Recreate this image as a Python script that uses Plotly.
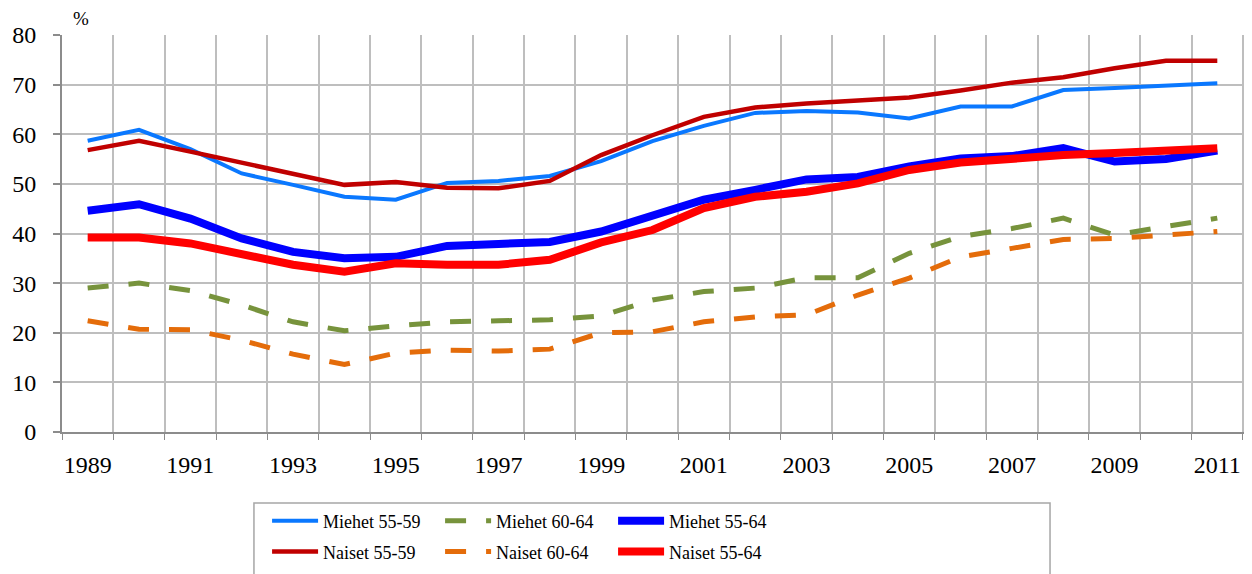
import plotly.graph_objects as go

years = list(range(1989, 2012))

# employment rates, %
miehet_55_59 = [58.7, 60.9, 57.0, 52.1, 49.8, 47.4, 46.8, 50.2, 50.6, 51.6, 54.6, 58.6,
                61.7, 64.3, 64.7, 64.4, 63.2, 65.6, 65.6, 68.9, 69.3, 69.9, 70.3]
miehet_60_64 = [29.0, 30.0, 28.5, 25.6, 22.2, 20.4, 21.4, 22.2, 22.4, 22.6, 23.4, 26.6,
                28.3, 29.0, 31.1, 31.1, 36.0, 39.4, 41.0, 43.1, 39.7, 41.4, 43.1]
miehet_55_64 = [44.6, 45.9, 43.0, 39.0, 36.3, 35.0, 35.3, 37.5, 37.9, 38.3, 40.4, 43.7,
                46.8, 48.8, 50.9, 51.4, 53.5, 55.1, 55.6, 57.2, 54.5, 55.0, 56.7]
naiset_55_59 = [56.8, 58.7, 56.5, 54.3, 52.1, 49.8, 50.4, 49.2, 49.1, 50.6, 55.8, 59.8,
                63.5, 65.4, 66.2, 66.8, 67.4, 68.8, 70.4, 71.5, 73.3, 74.8, 74.8]
naiset_60_64 = [22.4, 20.7, 20.6, 18.5, 15.7, 13.6, 15.9, 16.5, 16.3, 16.7, 20.0, 20.2,
                22.2, 23.2, 23.6, 27.6, 31.0, 35.3, 37.0, 38.8, 39.0, 39.7, 40.4]
naiset_55_64 = [39.2, 39.2, 38.0, 35.7, 33.7, 32.3, 34.0, 33.7, 33.7, 34.7, 38.2, 40.7,
                45.1, 47.4, 48.4, 50.1, 52.8, 54.3, 55.1, 55.8, 56.2, 56.8, 57.2]

xticks = list(range(1989, 2012, 2))
FONT = "Liberation Serif"
DASH = "21px,20px"

series = [
    ("Miehet 55-59", miehet_55_59, "#0A78FF", 4, "solid", "legend"),
    ("Miehet 60-64", miehet_60_64, "#77933C", 5, DASH, "legend"),
    ("Miehet 55-64", miehet_55_64, "#0000FF", 8, "solid", "legend"),
    ("Naiset 55-59", naiset_55_59, "#C00000", 4.5, "solid", "legend2"),
    ("Naiset 60-64", naiset_60_64, "#E46C0A", 5, DASH, "legend2"),
    ("Naiset 55-64", naiset_55_64, "#FF0000", 8, "solid", "legend2"),
]

fig = go.Figure()
for name, vals, col, w, dash, leg in series:
    fig.add_trace(go.Scatter(
        x=years, y=vals, name=name, mode="lines", legend=leg,
        line=dict(color=col, width=w, dash=dash)))

GRID = "#BEBEBE"
AXIS = "#8C8C8C"

fig.update_xaxes(
    range=[1988.5, 2011.52],
    tickvals=xticks, ticktext=[str(y) for y in xticks],
    ticks="", showgrid=False, ticklabelstandoff=10,
    showline=True, linecolor=AXIS, linewidth=2,
    tickfont=dict(family=FONT, size=24, color="black"),
    minor=dict(tick0=1988.5, dtick=1, ticks="outside", ticklen=6,
               tickcolor=AXIS, showgrid=True, gridcolor=GRID, gridwidth=1.5),
    zeroline=False, automargin=False,
)
fig.update_yaxes(
    range=[0, 80], dtick=10,
    ticks="outside", ticklen=7, tickcolor=AXIS, tickwidth=1.5,
    ticklabelstandoff=12,
    showline=True, linecolor=AXIS, linewidth=2,
    showgrid=True, gridcolor=GRID, gridwidth=1.5,
    tickfont=dict(family=FONT, size=24, color="black"),
    zeroline=False, automargin=False,
)

legend_style = dict(
    orientation="h", xanchor="left", yanchor="middle",
    font=dict(family=FONT, size=18, color="black"),
    bgcolor="rgba(0,0,0,0)", borderwidth=0,
    entrywidth=112, itemwidth=46,
)

# page body adds 8px offset, margins compensate
fig.update_layout(
    width=1252, height=574,
    margin=dict(l=54, r=16, t=27, b=150, autoexpand=False),
    plot_bgcolor="white", paper_bgcolor="white",
    font=dict(family=FONT, color="black"),
    showlegend=True,
    legend=dict(x=0.1735, y=-0.224, **legend_style),
    legend2=dict(x=0.1735, y=-0.302, **legend_style),
    shapes=[dict(type="rect", xref="paper", yref="paper",
                 x0=0.1624, x1=0.8359, y0=-0.179, y1=-0.40,
                 line=dict(color="#A6A6A6", width=1.5), fillcolor="rgba(0,0,0,0)")],
    annotations=[dict(text="%", xref="paper", yref="paper", x=0.016, y=1.0,
                      xanchor="center", yanchor="bottom", yshift=4, showarrow=False,
                      font=dict(family=FONT, size=19, color="black"))],
)

fig.write_html("out.html")
